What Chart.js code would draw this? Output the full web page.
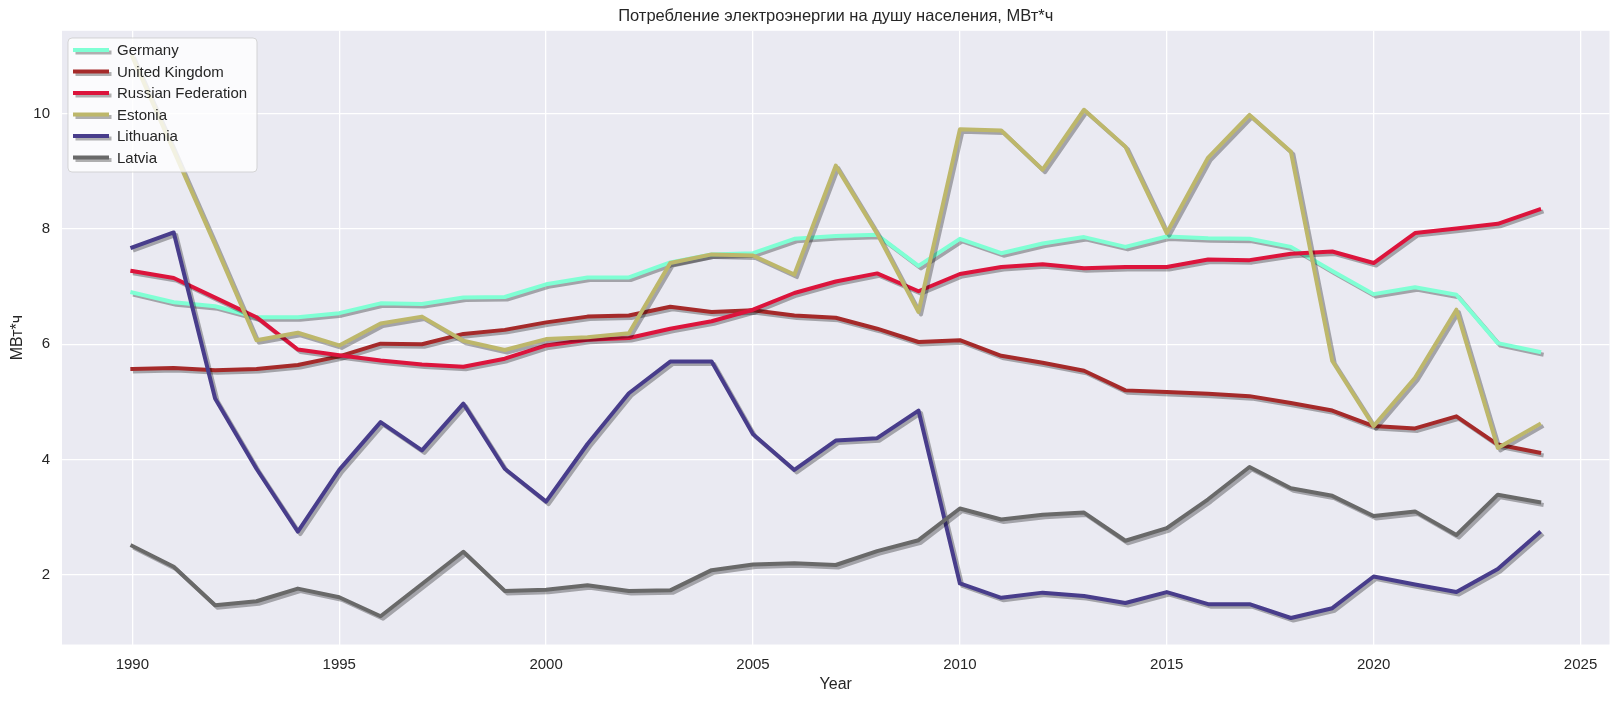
<!DOCTYPE html>
<html>
<head>
<meta charset="utf-8">
<script src="https://cdn.jsdelivr.net/npm/chart.js@4.4.1/dist/chart.umd.min.js"></script>
<style>
  html, body { margin: 0; padding: 0; background: #ffffff; }
  #chart { display: block; }
</style>
</head>
<body>
<canvas id="chart" width="1620" height="704"></canvas>
<script>
const years = [1990, 1991, 1992, 1993, 1994, 1995, 1996, 1997, 1998, 1999,
  2000, 2001, 2002, 2003, 2004, 2005, 2006, 2007, 2008, 2009,
  2010, 2011, 2012, 2013, 2014, 2015, 2016, 2017, 2018, 2019,
  2020, 2021, 2022, 2023, 2024];

const germany = [6.90, 6.73, 6.66, 6.47, 6.47, 6.54, 6.71, 6.70, 6.81, 6.82,
  7.04, 7.16, 7.16, 7.42, 7.56, 7.58, 7.83, 7.88, 7.90, 7.36,
  7.83, 7.58, 7.75, 7.86, 7.69, 7.87, 7.84, 7.83, 7.69, 7.27,
  6.87, 6.99, 6.86, 6.02, 5.87];
const unitedKingdom = [5.57, 5.59, 5.55, 5.57, 5.64, 5.79, 6.01, 6.00, 6.18, 6.25,
  6.38, 6.48, 6.50, 6.65, 6.56, 6.59, 6.50, 6.46, 6.27, 6.04,
  6.07, 5.80, 5.68, 5.54, 5.20, 5.17, 5.14, 5.10, 4.98, 4.85,
  4.58, 4.54, 4.75, 4.26, 4.12];
const russia = [7.27, 7.15, 6.81, 6.47, 5.91, 5.81, 5.72, 5.65, 5.61, 5.75,
  5.98, 6.08, 6.11, 6.27, 6.40, 6.60, 6.89, 7.09, 7.23, 6.92,
  7.22, 7.34, 7.39, 7.32, 7.34, 7.34, 7.47, 7.46, 7.57, 7.61,
  7.41, 7.93, 8.01, 8.09, 8.34];
const estonia = [10.99, 9.36, 7.73, 6.07, 6.20, 5.98, 6.36, 6.48, 6.06, 5.90,
  6.09, 6.12, 6.19, 7.41, 7.56, 7.54, 7.21, 9.10, 7.92, 6.56,
  9.73, 9.71, 9.03, 10.07, 9.43, 7.93, 9.24, 9.98, 9.34, 5.71,
  4.58, 5.42, 6.60, 4.20, 4.61];
const lithuania = [7.68, 7.94, 5.06, 3.84, 2.75, 3.82, 4.65, 4.16, 4.97, 3.84,
  3.27, 4.27, 5.15, 5.70, 5.70, 4.44, 3.82, 4.33, 4.37, 4.85,
  1.85, 1.60, 1.69, 1.63, 1.51, 1.70, 1.49, 1.49, 1.25, 1.42,
  1.97, 1.83, 1.70, 2.10, 2.73];
const latvia = [2.50, 2.14, 1.47, 1.54, 1.76, 1.61, 1.28, 1.84, 2.40, 1.72,
  1.74, 1.82, 1.72, 1.73, 2.08, 2.18, 2.20, 2.17, 2.41, 2.60,
  3.15, 2.96, 3.04, 3.08, 2.59, 2.81, 3.31, 3.87, 3.50, 3.37,
  3.02, 3.10, 2.69, 3.39, 3.26];

const countries = ['Germany', 'United Kingdom', 'Russian Federation', 'Estonia', 'Lithuania', 'Latvia'];
const colors = ['#7fffd4', '#a52a2a', '#dc143c', '#bdb76b', '#483d8b', '#696969'];
const seriesValues = [germany, unitedKingdom, russia, estonia, lithuania, latvia];

const xTicks = [1990, 1995, 2000, 2005, 2010, 2015, 2020, 2025];
const yTicks = [2, 4, 6, 8, 10];

const FONT = '"Liberation Sans", Arial, "DejaVu Sans", sans-serif';
const TEXT = '#262626';
const SHADOW = 'rgba(0, 0, 0, 0.3)';

// grey offset copy under each line, like a line shadow
const lineShadow = {
  id: 'lineShadow',
  beforeDatasetDraw(chart) {
    const ctx = chart.ctx;
    ctx.save();
    ctx.shadowColor = SHADOW;
    ctx.shadowOffsetX = 2.5;
    ctx.shadowOffsetY = 2.5;
    ctx.shadowBlur = 0;
  },
  afterDatasetDraw(chart) {
    chart.ctx.restore();
  }
};

const plotBackground = {
  id: 'plotBackground',
  beforeDraw(chart) {
    const { ctx, chartArea: a } = chart;
    ctx.save();
    ctx.fillStyle = '#eaeaf2';
    ctx.fillRect(a.left, a.top, a.right - a.left, a.bottom - a.top);
    ctx.restore();
  }
};

// legend box drawn over the lines in the upper left corner
const boxLegend = {
  id: 'boxLegend',
  afterDraw(chart) {
    const ctx = chart.ctx;
    const x = 68, y = 38, w = 189, h = 134, r = 4;
    ctx.save();
    ctx.beginPath();
    ctx.roundRect(x, y, w, h, r);
    ctx.fillStyle = 'rgba(255, 255, 255, 0.8)';
    ctx.fill();
    ctx.lineWidth = 1;
    ctx.strokeStyle = 'rgba(204, 204, 204, 0.8)';
    ctx.stroke();

    ctx.font = '15px ' + FONT;
    ctx.textBaseline = 'middle';
    ctx.textAlign = 'left';
    chart.data.datasets.forEach((ds, i) => {
      const cy = 50 + i * 21.5;
      ctx.save();
      ctx.shadowColor = SHADOW;
      ctx.shadowOffsetX = 2.5;
      ctx.shadowOffsetY = 2.5;
      ctx.beginPath();
      ctx.moveTo(75, cy);
      ctx.lineTo(107, cy);
      ctx.lineWidth = 4;
      ctx.lineCap = 'square';
      ctx.strokeStyle = ds.borderColor;
      ctx.stroke();
      ctx.restore();
      ctx.fillStyle = TEXT;
      ctx.fillText(ds.label, 117, cy + 1);
    });
    ctx.restore();
  }
};

const datasets = countries.map((name, i) => ({
  label: name,
  data: years.map((yr, k) => ({ x: yr, y: seriesValues[i][k] })),
  borderColor: colors[i],
  backgroundColor: colors[i],
  borderWidth: 4,
  borderJoinStyle: 'round',
  borderCapStyle: 'square',
  pointRadius: 0,
  tension: 0,
  fill: false,
  order: countries.length - i
}));

new Chart(document.getElementById('chart'), {
  type: 'line',
  data: { datasets },
  options: {
    responsive: false,
    animation: false,
    devicePixelRatio: 1,
    layout: { padding: { left: 0, right: 10.5, top: 0, bottom: 0 } },
    plugins: {
      legend: { display: false },
      tooltip: { enabled: false },
      title: {
        display: true,
        fullSize: false,
        text: 'Потребление электроэнергии на душу населения, МВт*ч',
        color: TEXT,
        font: { family: FONT, size: 16.5, weight: 'normal' },
        padding: { top: 7, bottom: 4 }
      }
    },
    scales: {
      x: {
        type: 'linear',
        min: 1988.3,
        max: 2025.7,
        afterFit(scale) { scale.height = 59.5; },
        afterBuildTicks(scale) { scale.ticks = xTicks.map(v => ({ value: v })); },
        grid: { color: '#ffffff', lineWidth: 1.3, drawTicks: false },
        border: { display: false },
        ticks: {
          color: TEXT,
          padding: 11.5,
          font: { family: FONT, size: 15 },
          callback: v => String(v)
        },
        title: {
          display: true,
          text: 'Year',
          color: TEXT,
          font: { family: FONT, size: 16 },
          padding: { top: 0, bottom: 9.4 }
        }
      },
      y: {
        type: 'linear',
        min: 0.79,
        max: 11.44,
        afterFit(scale) { scale.width = 62; },
        afterBuildTicks(scale) { scale.ticks = yTicks.map(v => ({ value: v })); },
        grid: { color: '#ffffff', lineWidth: 1.3, drawTicks: false },
        border: { display: false },
        ticks: {
          color: TEXT,
          padding: 12,
          font: { family: FONT, size: 15 },
          callback: v => String(v)
        },
        title: {
          display: true,
          text: 'МВт*ч',
          color: TEXT,
          font: { family: FONT, size: 16 },
          padding: { top: 8.4, bottom: 0 }
        }
      }
    }
  },
  plugins: [plotBackground, lineShadow, boxLegend]
});
</script>
</body>
</html>
